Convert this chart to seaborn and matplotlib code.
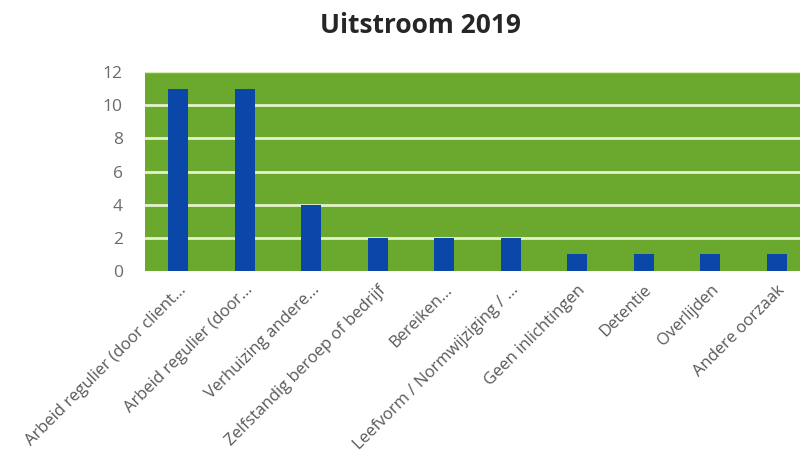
import matplotlib
matplotlib.use("Agg")
import matplotlib.pyplot as plt
import seaborn as sns
import pandas as pd

categorieen = ['Arbeid regulier (door client...', 'Arbeid regulier (door...',
               'Verhuizing andere...', 'Zelfstandig beroep of bedrijf',
               'Bereiken...', 'Leefvorm / Normwijziging / ...',
               'Geen inlichtingen', 'Detentie', 'Overlijden', 'Andere oorzaak']
aantallen = [11, 11, 4, 2, 2, 2, 1, 1, 1, 1]
y_ticks = [0, 2, 4, 6, 8, 10, 12]

df = pd.DataFrame({'reden': categorieen, 'aantal': aantallen})

sns.set_theme(style="white")
plt.rcParams['font.family'] = ['Open Sans', 'DejaVu Sans']

fig = plt.figure(figsize=(8, 4.7), dpi=100)
ax = fig.add_axes([145 / 800, 1 - 271 / 470, 665 / 800, 199 / 470])
ax.set_facecolor('#6aa92e')

sns.barplot(data=df, x='reden', y='aantal', color='#0b47a8', width=0.3,
            saturation=1, linewidth=0, ax=ax, zorder=3)

ax.set_ylim(0, 12)
ax.set_yticks(y_ticks)
# witte rasterlijnen, niet op 0 en 12
for y in y_ticks[1:-1]:
    ax.axhline(y, color='#e4f2cc', linewidth=2, zorder=1)
ax.axhline(12, color='#d8ecb5', linewidth=1, zorder=1)
for s in ax.spines.values():
    s.set_visible(False)

ax.set_xlabel('')
ax.set_ylabel('')
ax.tick_params(axis='y', labelsize=12.5, labelcolor='#6b6b6b', length=0, pad=16)
ax.tick_params(axis='x', labelsize=12, labelcolor='#595959', length=0, pad=8)
plt.setp(ax.get_xticklabels(), rotation=45, ha='right', rotation_mode='anchor')

fig.text(0.525, 0.945, 'Uitstroom 2019', ha='center', va='center',
         fontsize=19, fontweight='bold', color='#262626')

fig.savefig('out.png', dpi=100)
